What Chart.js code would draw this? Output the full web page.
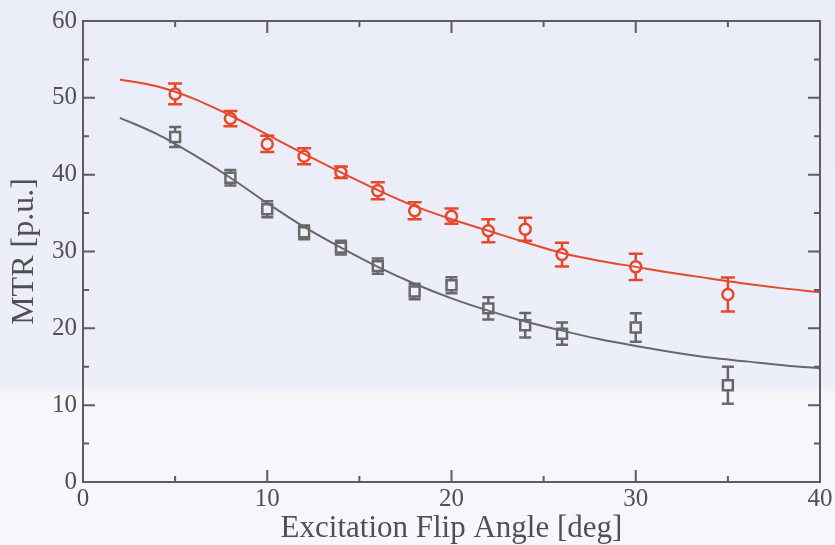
<!DOCTYPE html>
<html>
<head>
<meta charset="utf-8">
<script src="https://cdn.jsdelivr.net/npm/chart.js@4.4.0/dist/chart.umd.min.js"></script>
<style>
  html, body { margin: 0; padding: 0; }
  body {
    width: 835px; height: 545px; overflow: hidden;
    background: linear-gradient(to bottom, #eaecf8 0px, #eceef9 385px, #f6f6fb 395px, #f7f7fb 545px);
  }
  #wrap { position: relative; width: 835px; height: 545px; }
</style>
</head>
<body>
<div id="wrap"><canvas id="c" width="835" height="545"></canvas></div>
<script>
// ---- data ----
const angles   = [5, 8, 10, 12, 14, 16, 18, 20, 22, 24, 26, 30, 35];
const mtrRed   = [50.5, 47.3, 44.0, 42.4, 40.3, 37.9, 35.3, 34.6, 32.7, 32.9, 29.6, 28.0, 24.4];
const errRed   = [1.35, 1.0, 1.05, 1.05, 0.75, 1.1, 1.1, 1.0, 1.5, 1.5, 1.55, 1.7, 2.2];
const mtrGray  = [44.9, 39.6, 35.5, 32.5, 30.5, 28.1, 24.8, 25.6, 22.6, 20.4, 19.3, 20.1, 12.6];
const errGray  = [1.3, 1.0, 1.05, 0.9, 0.9, 1.0, 1.0, 1.05, 1.45, 1.6, 1.45, 1.85, 2.4];
const fitAngles = [2, 4, 6, 8, 10, 12, 14, 16, 18, 20, 22, 24, 26, 28, 30, 32, 34, 36, 38, 40];
const fitRed   = [52.4, 51.5, 49.9, 47.7, 45.2, 42.7, 40.3, 38.0, 35.9, 34.2, 32.7, 31.2, 29.8, 28.8, 28.0, 27.2, 26.5, 25.8, 25.2, 24.7];
const fitGray  = [47.4, 45.3, 42.6, 39.6, 36.3, 33.2, 30.5, 28.0, 25.8, 23.9, 22.3, 20.9, 19.7, 18.6, 17.7, 16.9, 16.2, 15.7, 15.2, 14.8];
const xTickValues = [0, 10, 20, 30, 40];
const yTickValues = [0, 10, 20, 30, 40, 50, 60];
const xMinorValues = [5, 15, 25, 35];
const yMinorValues = [5, 15, 25, 35, 45, 55];

const RED = '#e6482b';
const GRAY = '#686868';
const AXIS = '#5e5e5e';
const TEXT = '#505050';
const FILL = '#eef0f9';

const pts = (xs, ys) => xs.map((x, i) => ({ x: x, y: ys[i] }));

// error bars drawn through the scales
const errorBarPlugin = {
  id: 'errorBars',
  beforeDatasetsDraw(chart) {
    const ctx = chart.ctx;
    const xs = chart.scales.x, ys = chart.scales.y;
    const sets = [
      { v: mtrRed, e: errRed, color: RED, cap: 7 },
      { v: mtrGray, e: errGray, color: GRAY, cap: 6 }
    ];
    ctx.save();
    ctx.lineWidth = 2.5;
    sets.forEach(s => {
      ctx.strokeStyle = s.color;
      angles.forEach((a, i) => {
        const px = xs.getPixelForValue(a);
        const top = ys.getPixelForValue(s.v[i] + s.e[i]);
        const bot = ys.getPixelForValue(s.v[i] - s.e[i]);
        ctx.beginPath();
        ctx.moveTo(px, top); ctx.lineTo(px, bot);
        ctx.moveTo(px - s.cap, top); ctx.lineTo(px + s.cap, top);
        ctx.moveTo(px - s.cap, bot); ctx.lineTo(px + s.cap, bot);
        ctx.stroke();
      });
    });
    ctx.restore();
  }
};

// frame + inward ticks, positioned by the scales
const framePlugin = {
  id: 'frame',
  afterDraw(chart) {
    const ctx = chart.ctx;
    const a = chart.chartArea;
    const xs = chart.scales.x, ys = chart.scales.y;
    ctx.save();
    ctx.strokeStyle = AXIS;
    ctx.lineWidth = 2;
    ctx.strokeRect(a.left, a.top, a.right - a.left, a.bottom - a.top);
    const major = 12, minor = 6;
    ctx.beginPath();
    xTickValues.forEach(v => {
      const p = xs.getPixelForValue(v);
      ctx.moveTo(p, a.bottom); ctx.lineTo(p, a.bottom - major);
      ctx.moveTo(p, a.top); ctx.lineTo(p, a.top + major);
    });
    xMinorValues.forEach(v => {
      const p = xs.getPixelForValue(v);
      ctx.moveTo(p, a.bottom); ctx.lineTo(p, a.bottom - minor);
      ctx.moveTo(p, a.top); ctx.lineTo(p, a.top + minor);
    });
    yTickValues.forEach(v => {
      const p = ys.getPixelForValue(v);
      ctx.moveTo(a.left, p); ctx.lineTo(a.left + major, p);
      ctx.moveTo(a.right, p); ctx.lineTo(a.right - major, p);
    });
    yMinorValues.forEach(v => {
      const p = ys.getPixelForValue(v);
      ctx.moveTo(a.left, p); ctx.lineTo(a.left + minor, p);
      ctx.moveTo(a.right, p); ctx.lineTo(a.right - minor, p);
    });
    ctx.stroke();
    ctx.restore();
  }
};

const fontFam = '"Liberation Serif", "Times New Roman", serif';

new Chart(document.getElementById('c'), {
  type: 'scatter',
  data: {
    datasets: [
      { type: 'line', data: pts(fitAngles, fitRed), borderColor: RED, borderWidth: 2,
        pointRadius: 0, cubicInterpolationMode: 'monotone', fill: false },
      { type: 'line', data: pts(fitAngles, fitGray), borderColor: GRAY, borderWidth: 2,
        pointRadius: 0, cubicInterpolationMode: 'monotone', fill: false },
      { data: pts(angles, mtrRed), pointStyle: 'circle', pointRadius: 5.5,
        borderColor: RED, backgroundColor: FILL, borderWidth: 2.5 },
      { data: pts(angles, mtrGray), pointStyle: 'rect', pointRadius: 7,
        borderColor: GRAY, backgroundColor: FILL, borderWidth: 2.5 }
    ]
  },
  options: {
    responsive: false,
    animation: false,
    events: [],
    layout: { padding: { top: 17, right: 15, left: 0, bottom: 0 } },
    plugins: { legend: { display: false }, tooltip: { enabled: false } },
    scales: {
      x: {
        type: 'linear', min: 0, max: 40,
        afterBuildTicks: s => { s.ticks = xTickValues.map(v => ({ value: v })); },
        afterFit: s => { s.height = 63; },
        grid: { display: false, drawTicks: false },
        border: { display: false },
        ticks: { color: TEXT, padding: 2, font: { family: fontFam, size: 25 }, maxRotation: 0 },
        title: { display: true, text: 'Excitation Flip Angle [deg]', color: TEXT,
                 font: { family: fontFam, size: 31 }, padding: { top: 0, bottom: -2 } }
      },
      y: {
        type: 'linear', min: 0, max: 60,
        afterBuildTicks: s => { s.ticks = yTickValues.map(v => ({ value: v })); },
        afterFit: s => { s.width = 83; },
        grid: { display: false, drawTicks: false },
        border: { display: false },
        ticks: { color: TEXT, padding: 6, font: { family: fontFam, size: 25 } },
        title: { display: true, text: 'MTR [p.u.]', color: TEXT,
                 font: { family: fontFam, size: 32 }, padding: { top: 5, bottom: 0 } }
      }
    }
  },
  plugins: [errorBarPlugin, framePlugin]
});
</script>
</body>
</html>
